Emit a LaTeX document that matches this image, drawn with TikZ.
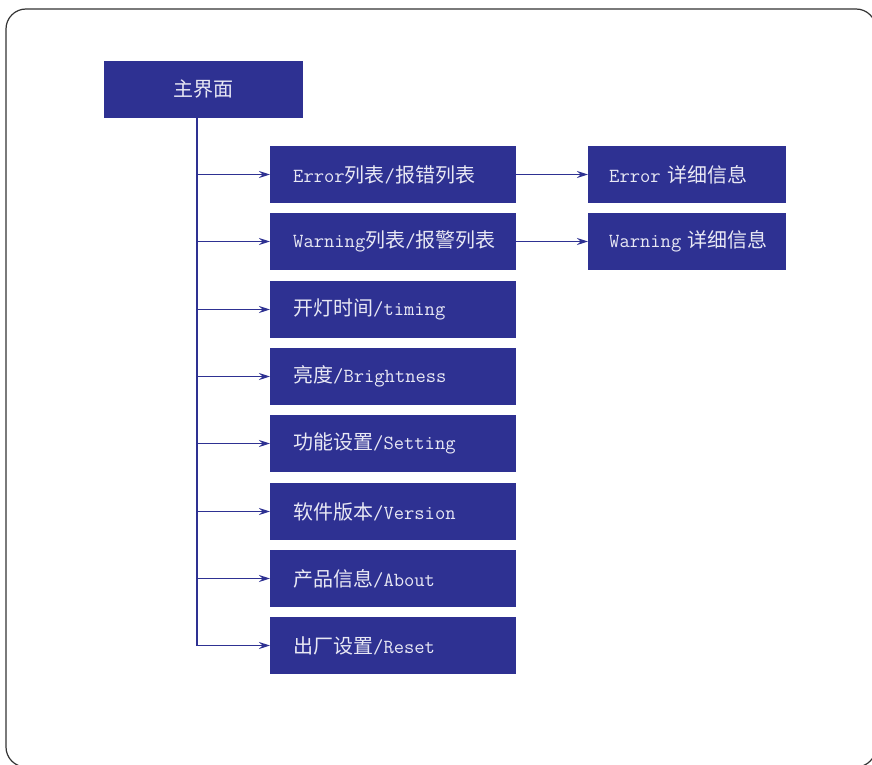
\documentclass[tikz,border=0pt]{standalone}
\usepackage{fontspec}
\usepackage{xcolor}
\newfontfamily\cjk{Noto Sans CJK SC}
\usetikzlibrary{arrows.meta}

\definecolor{menublue}{HTML}{2E3192}
\definecolor{menutext}{HTML}{E8E8F4}
\newcommand{\zh}[1]{{\cjk #1}}

\tikzset{
  menu/.style={fill=menublue, text=menutext, minimum height=57pt, inner sep=0pt,
    font=\ttfamily\fontsize{20}{24}\selectfont},
  item/.style={menu, anchor=west, minimum width=246pt, text width=200pt, align=left},
  detail/.style={menu, anchor=west, minimum width=198pt, text width=156pt, align=left},
  link/.style={draw=menublue, line width=1.6pt, -{Stealth[length=11pt,width=7pt]}}
}

\begin{document}
\begin{tikzpicture}[x=1pt, y=-1pt]
    \clip (0,0) rectangle (872,765);
    \draw[black!80, line width=1.2pt, rounded corners=20pt] (6,9) rectangle (876,767);

    % main menu and its items
    \node[menu, minimum width=199pt] (main) at (203.5,89.5) {\zh{主界面}};
    \node[item] (c1) at (270,174.5) {Error\zh{列表}/\zh{报错列表}};
    \node[item] (c2) at (270,241.5) {Warning\zh{列表}/\zh{报警列表}};
    \node[item] (c3) at (270,309.5) {\zh{开灯时间}/timing};
    \node[item] (c4) at (270,376.5) {\zh{亮度}/Brightness};
    \node[item] (c5) at (270,443.5) {\zh{功能设置}/Setting};
    \node[item] (c6) at (270,511.5) {\zh{软件版本}/Version};
    \node[item] (c7) at (270,578.5) {\zh{产品信息}/About};
    \node[item] (c8) at (270,645.5) {\zh{出厂设置}/Reset};

    % detail pages
    \node[detail] (d1) at (588,174.5) {\mbox{Error \zh{详细信息}}};
    \node[detail] (d2) at (588,241.5) {\mbox{Warning \zh{详细信息}}};

    \coordinate (spine) at (197,0);
    \draw[menublue, line width=1.6pt] (main.south -| spine) -- (spine |- c8.west);
    \foreach \n in {c1,c2,c3,c4,c5,c6,c7,c8}
        \draw[link] (spine |- \n.west) -- (\n.west);
    \draw[link] (c1.east) -- (d1.west);
    \draw[link] (c2.east) -- (d2.west);
\end{tikzpicture}
\end{document}
